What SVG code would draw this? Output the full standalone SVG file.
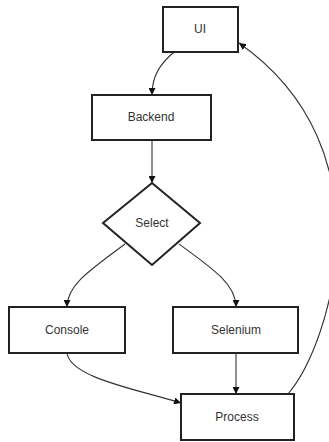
<svg xmlns="http://www.w3.org/2000/svg" width="329" height="442" viewBox="0 0 329 442">
<style>
.box{fill:#fff;stroke:#222;stroke-width:2}
.lbl{font-family:"Liberation Sans",Arial,sans-serif;font-size:12px;fill:#333;text-anchor:middle;dominant-baseline:central}
.edge{fill:none;stroke:#333;stroke-width:1.1}
</style>
<defs>
<marker id="arr" viewBox="0 0 10 10" refX="10" refY="5" markerWidth="7" markerHeight="7" markerUnits="userSpaceOnUse" orient="auto">
<path d="M0,0 L10,5 L0,10 z" fill="#111"/>
</marker>
</defs>
<rect width="329" height="442" fill="#fff"/>
<g id="connectors">
<path class="edge" d="M174,52 C160,64 152,76 152,95" marker-end="url(#arr)"/>
<path class="edge" d="M152,140 L152,183" marker-end="url(#arr)"/>
<path class="edge" d="M125,244 C90,270 67,285 67,307" marker-end="url(#arr)"/>
<path class="edge" d="M179,244 C215,270 236,285 236,307" marker-end="url(#arr)"/>
<path class="edge" d="M67,353 C70,378 140,390 181,403" marker-end="url(#arr)"/>
<path class="edge" d="M236,353 L236,394" marker-end="url(#arr)"/>
<path class="edge" d="M288,394 C330,345 392,150 239,43" marker-end="url(#arr)"/>
</g>
<g id="ui"><rect class="box" x="163" y="7" width="75" height="45"/><text class="lbl" x="200" y="29">UI</text></g>
<g id="backend"><rect class="box" x="92" y="95" width="119" height="45"/><text class="lbl" x="151" y="117">Backend</text></g>
<g id="select"><polygon class="box" points="152,183 200,223 152,265 103,223"/><text class="lbl" x="152" y="223">Select</text></g>
<g id="console"><rect class="box" x="9" y="307" width="116" height="46"/><text class="lbl" x="67" y="330">Console</text></g>
<g id="selenium"><rect class="box" x="173" y="307" width="125" height="46"/><text class="lbl" x="236" y="330">Selenium</text></g>
<g id="process"><rect class="box" x="181" y="394" width="113" height="46"/><text class="lbl" x="237" y="417">Process</text></g>
</svg>
